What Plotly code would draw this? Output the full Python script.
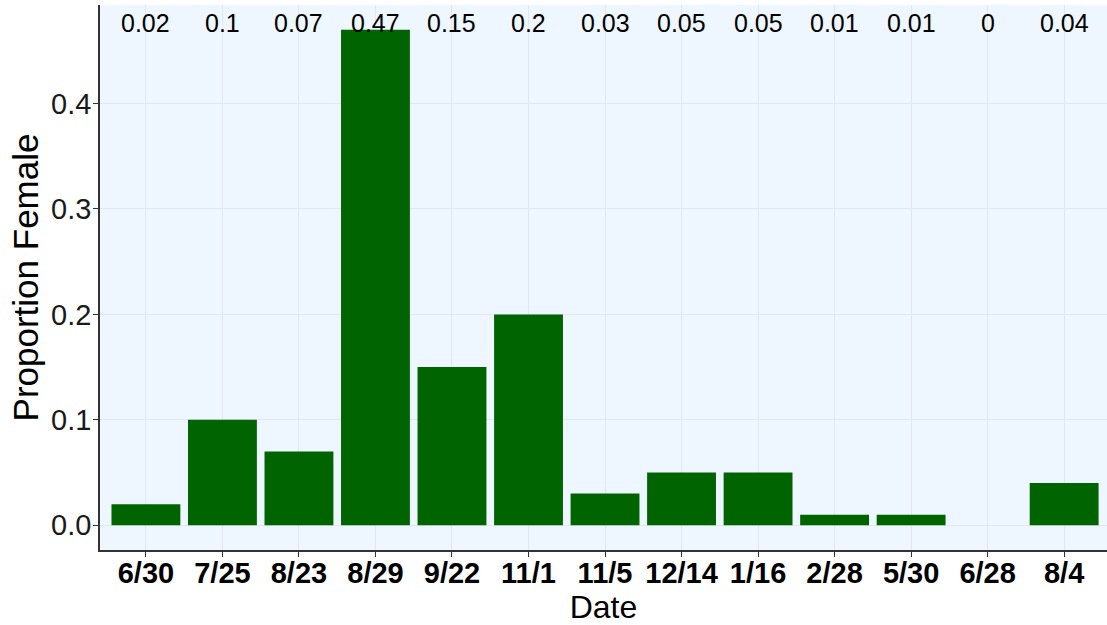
import plotly.graph_objects as go

dates = ["6/30", "7/25", "8/23", "8/29", "9/22", "11/1", "11/5", "12/14", "1/16", "2/28", "5/30", "6/28", "8/4"]
prop_female = [0.02, 0.10, 0.07, 0.47, 0.15, 0.20, 0.03, 0.05, 0.05, 0.01, 0.01, 0.0, 0.04]
labels = ["0.02", "0.1", "0.07", "0.47", "0.15", "0.2", "0.03", "0.05", "0.05", "0.01", "0.01", "0", "0.04"]
yticks = [0.0, 0.1, 0.2, 0.3, 0.4]
ytick_text = ["0.0", "0.1", "0.2", "0.3", "0.4"]

x_idx = list(range(len(dates)))
FONT = "Liberation Sans, Arial"

fig = go.Figure()
fig.add_trace(go.Bar(x=x_idx, y=prop_female, width=0.9,
                     marker=dict(color="#006400", line=dict(width=0)), showlegend=False))

for i, lab in enumerate(labels):
    fig.add_annotation(x=i, y=0.476, xref="x", yref="y", text=lab, showarrow=False,
                       font=dict(family=FONT, size=25, color="black"))

fig.update_layout(
    width=1107, height=625,
    margin=dict(l=100, r=0, t=5, b=75),
    paper_bgcolor="white",
    plot_bgcolor="#EEF6FF",
    font=dict(family=FONT, color="black"),
)
fig.update_xaxes(
    range=[-0.6, 12.56], tickmode="array", tickvals=x_idx,
    ticktext=["<b>%s</b>" % d for d in dates],
    tickfont=dict(family=FONT, size=29, color="black"),
    ticklabelstandoff=-9,
    title=dict(text="Date", font=dict(family=FONT, size=32, color="black"), standoff=0),
    showgrid=True, gridcolor="#E0E7EE", gridwidth=1,
    showline=True, linecolor="#333333", linewidth=1.5,
    ticks="outside", ticklen=5, tickcolor="#333333", zeroline=False,
)
fig.update_yaxes(
    range=[-0.0235, 0.4935], tickmode="array", tickvals=yticks, ticktext=ytick_text,
    tickfont=dict(family=FONT, size=29, color="#1a1a1a"),
    ticklabelstandoff=-4,
    title=dict(text="Proportion Female", font=dict(family=FONT, size=35, color="black"), standoff=2),
    showgrid=True, gridcolor="#E0E7EE", gridwidth=1,
    showline=True, linecolor="#333333", linewidth=1.5,
    ticks="outside", ticklen=5, tickcolor="#333333", zeroline=False,
)

fig.write_html("out.html", config={"displayModeBar": False},
               post_script="document.body.style.margin='0';document.body.style.padding='0';")
